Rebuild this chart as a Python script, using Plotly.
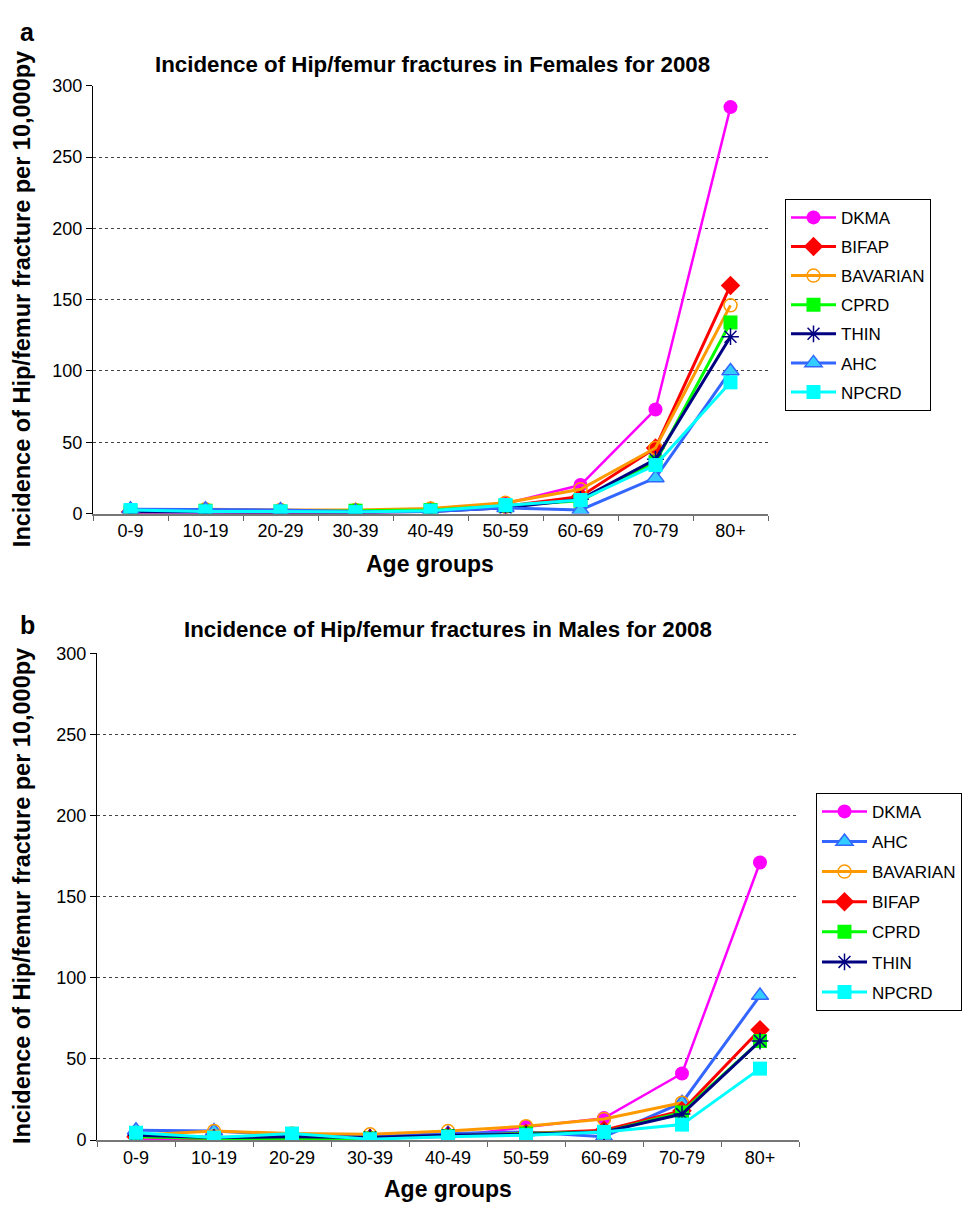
import plotly.graph_objects as go

age_groups = ["0-9", "10-19", "20-29", "30-39", "40-49", "50-59", "60-69", "70-79", "80+"]

# Females 2008 (panel a)
f_dkma = [0.5, 0.5, 0.5, 0.5, 1.5, 7, 20, 73, 285]
f_bifap = [1, 1.5, 1, 1, 2, 5, 12, 46, 160]
f_bavarian = [2, 3, 2.5, 2.5, 3.5, 7.5, 17, 46, 146]
f_cprd = [1.5, 2, 1.5, 2, 2.5, 5.5, 9, 36, 134]
f_thin = [1, 1, 1, 0.5, 1.5, 4, 10, 38, 124]
f_ahc = [3, 3, 2.5, 1.5, 1.5, 4, 2.5, 25, 100]
f_npcrd = [2.5, 1.5, 1.5, 1, 2, 6, 9.5, 34, 92]

# Males 2008 (panel b)
m_dkma = [0, 0.5, 0.5, 1, 2, 8, 13.5, 41, 171]
m_ahc = [6, 5.5, 3, 2, 4, 5, 2, 23, 89]
m_bavarian = [3, 5.5, 4, 3.5, 5.5, 8.5, 13, 23, None]
m_bifap = [2, 1, 0.5, 1, 2.5, 4, 6, 18, 68]
m_cprd = [2, 1, 1, 1, 2.5, 4, 5, 17, 61]
m_thin = [3, 1.5, 2, 1.5, 3, 3.5, 5, 16, 61]
m_npcrd = [4.5, 1.5, 4, 0.5, 2, 3, 5, 9.5, 44]

FONT = "Liberation Sans, Arial, sans-serif"

styles = {
    "DKMA": dict(color="#FF00FF", symbol="circle", size=14, fill="#FF00FF", lw=0, width=2.5),
    "BIFAP": dict(color="#FF0000", symbol="diamond", size=15, fill="#FF0000", lw=0, width=3),
    "BAVARIAN": dict(color="#FF9900", symbol="circle-open", size=13, fill="#FF9900", lw=1.5, width=3),
    "CPRD": dict(color="#00FF00", symbol="square", size=14, fill="#00FF00", lw=0, width=3),
    "THIN": dict(color="#000080", symbol="asterisk-open", size=14, fill="#000080", lw=1.5, width=3),
    "AHC": dict(color="#3366FF", symbol="triangle-up", size=15, fill="#33CCFF", lw=1.5, width=3),
    "NPCRD": dict(color="#00FFFF", symbol="square", size=14, fill="#00FFFF", lw=0, width=3),
}

fig = go.Figure()

def add(name, vals, xa, ya, legend):
    s = styles[name]
    if s["symbol"] in ("circle-open", "asterisk-open"):
        mk = dict(symbol=s["symbol"], size=s["size"], color=s["color"],
                  line=dict(color=s["color"], width=s["lw"]))
    else:
        mk = dict(symbol=s["symbol"], size=s["size"], color=s["fill"],
                  line=dict(color=s["color"], width=s["lw"]))
    fig.add_trace(go.Scatter(
        x=age_groups, y=vals, name=name, mode="lines+markers",
        line=dict(color=s["color"], width=s["width"]), marker=mk,
        xaxis=xa, yaxis=ya, legend=legend, legendgroup=legend + name,
        connectgaps=False))

top_series = [("DKMA", f_dkma), ("BIFAP", f_bifap), ("BAVARIAN", f_bavarian), ("CPRD", f_cprd),
              ("THIN", f_thin), ("AHC", f_ahc), ("NPCRD", f_npcrd)]
bot_series = [("DKMA", m_dkma), ("AHC", m_ahc), ("BAVARIAN", m_bavarian), ("BIFAP", m_bifap),
              ("CPRD", m_cprd), ("THIN", m_thin), ("NPCRD", m_npcrd)]

for n, v in top_series:
    add(n, v, "x", "y", "legend")
for n, v in bot_series:
    add(n, v, "x2", "y2", "legend2")

W, H = 962, 1211

def px(x):
    return x / W

def py(y):
    return 1 - y / H

xax = dict(type="category", tickson="boundaries", ticks="outside", ticklen=5,
           tickcolor="#666", showline=True, linecolor="#777", linewidth=2,
           showgrid=False, tickfont=dict(family=FONT, size=18, color="black"),
           range=[-0.5, 8.5])
yax = dict(range=[0, 300], dtick=50, ticks="outside", ticklen=6, tickcolor="black",
           showline=True, linecolor="black", linewidth=1, showgrid=True,
           gridcolor="#444", griddash="dot", gridwidth=1, zeroline=False,
           tickfont=dict(family=FONT, size=18, color="black"))

fig.update_layout(
    width=W, height=H, margin=dict(l=0, r=0, t=0, b=0),
    paper_bgcolor="white", plot_bgcolor="white",
    font=dict(family=FONT, color="black"),
    xaxis=dict(xax, domain=[px(93), px(768)], anchor="y"),
    yaxis=dict(yax, domain=[py(512), py(77)], anchor="x"),
    xaxis2=dict(xax, domain=[px(97), px(799)], anchor="y2"),
    yaxis2=dict(yax, domain=[py(1149), py(654)], anchor="x2"),
    legend=dict(x=px(785), y=py(192), xanchor="left", yanchor="top",
                bordercolor="black", borderwidth=1, bgcolor="white",
                font=dict(family=FONT, size=17), tracegroupgap=4,
                itemwidth=45, traceorder="grouped"),
    legend2=dict(x=px(816), y=py(796), xanchor="left", yanchor="top",
                 bordercolor="black", borderwidth=1, bgcolor="white",
                 font=dict(family=FONT, size=17), tracegroupgap=5,
                 itemwidth=45, traceorder="grouped"),
    showlegend=True,
)

ann = [
    dict(text="<b>a</b>", x=px(27), y=py(22), xanchor="center", yanchor="middle", font=dict(size=25)),
    dict(text="<b>b</b>", x=px(27), y=py(625), xanchor="center", yanchor="middle", font=dict(size=25)),
    dict(text="<b>Incidence of Hip/femur fractures in Females for 2008</b>", x=px(432), y=py(55),
         xanchor="center", yanchor="middle", font=dict(size=22.3)),
    dict(text="<b>Incidence of Hip/femur fractures in Males for 2008</b>", x=px(448), y=py(630),
         xanchor="center", yanchor="middle", font=dict(size=22.3)),
    dict(text="<b>Age groups</b>", x=px(430), y=py(563), xanchor="center", yanchor="middle",
         font=dict(size=23)),
    dict(text="<b>Age groups</b>", x=px(448), y=py(1199), xanchor="center", yanchor="middle",
         font=dict(size=23)),
    dict(text="<b>Incidence of Hip/femur fracture per 10,000py</b>", x=px(22), y=py(294),
         xanchor="center", yanchor="middle", textangle=-90, font=dict(size=23.5)),
    dict(text="<b>Incidence of Hip/femur fracture per 10,000py</b>", x=px(22), y=py(901),
         xanchor="center", yanchor="middle", textangle=-90, font=dict(size=23.5)),
]
for a in ann:
    a.update(xref="paper", yref="paper", showarrow=False)
    a["font"] = dict(a["font"], family=FONT, color="black")
fig.update_layout(annotations=ann)

fig.write_html(
    "out.html",
    config={"displayModeBar": False, "staticPlot": True},
    post_script=(
        "document.body.style.margin='0px';"
        "document.body.style.overflow='hidden';"
        "document.documentElement.style.overflow='hidden';"
    ),
)
